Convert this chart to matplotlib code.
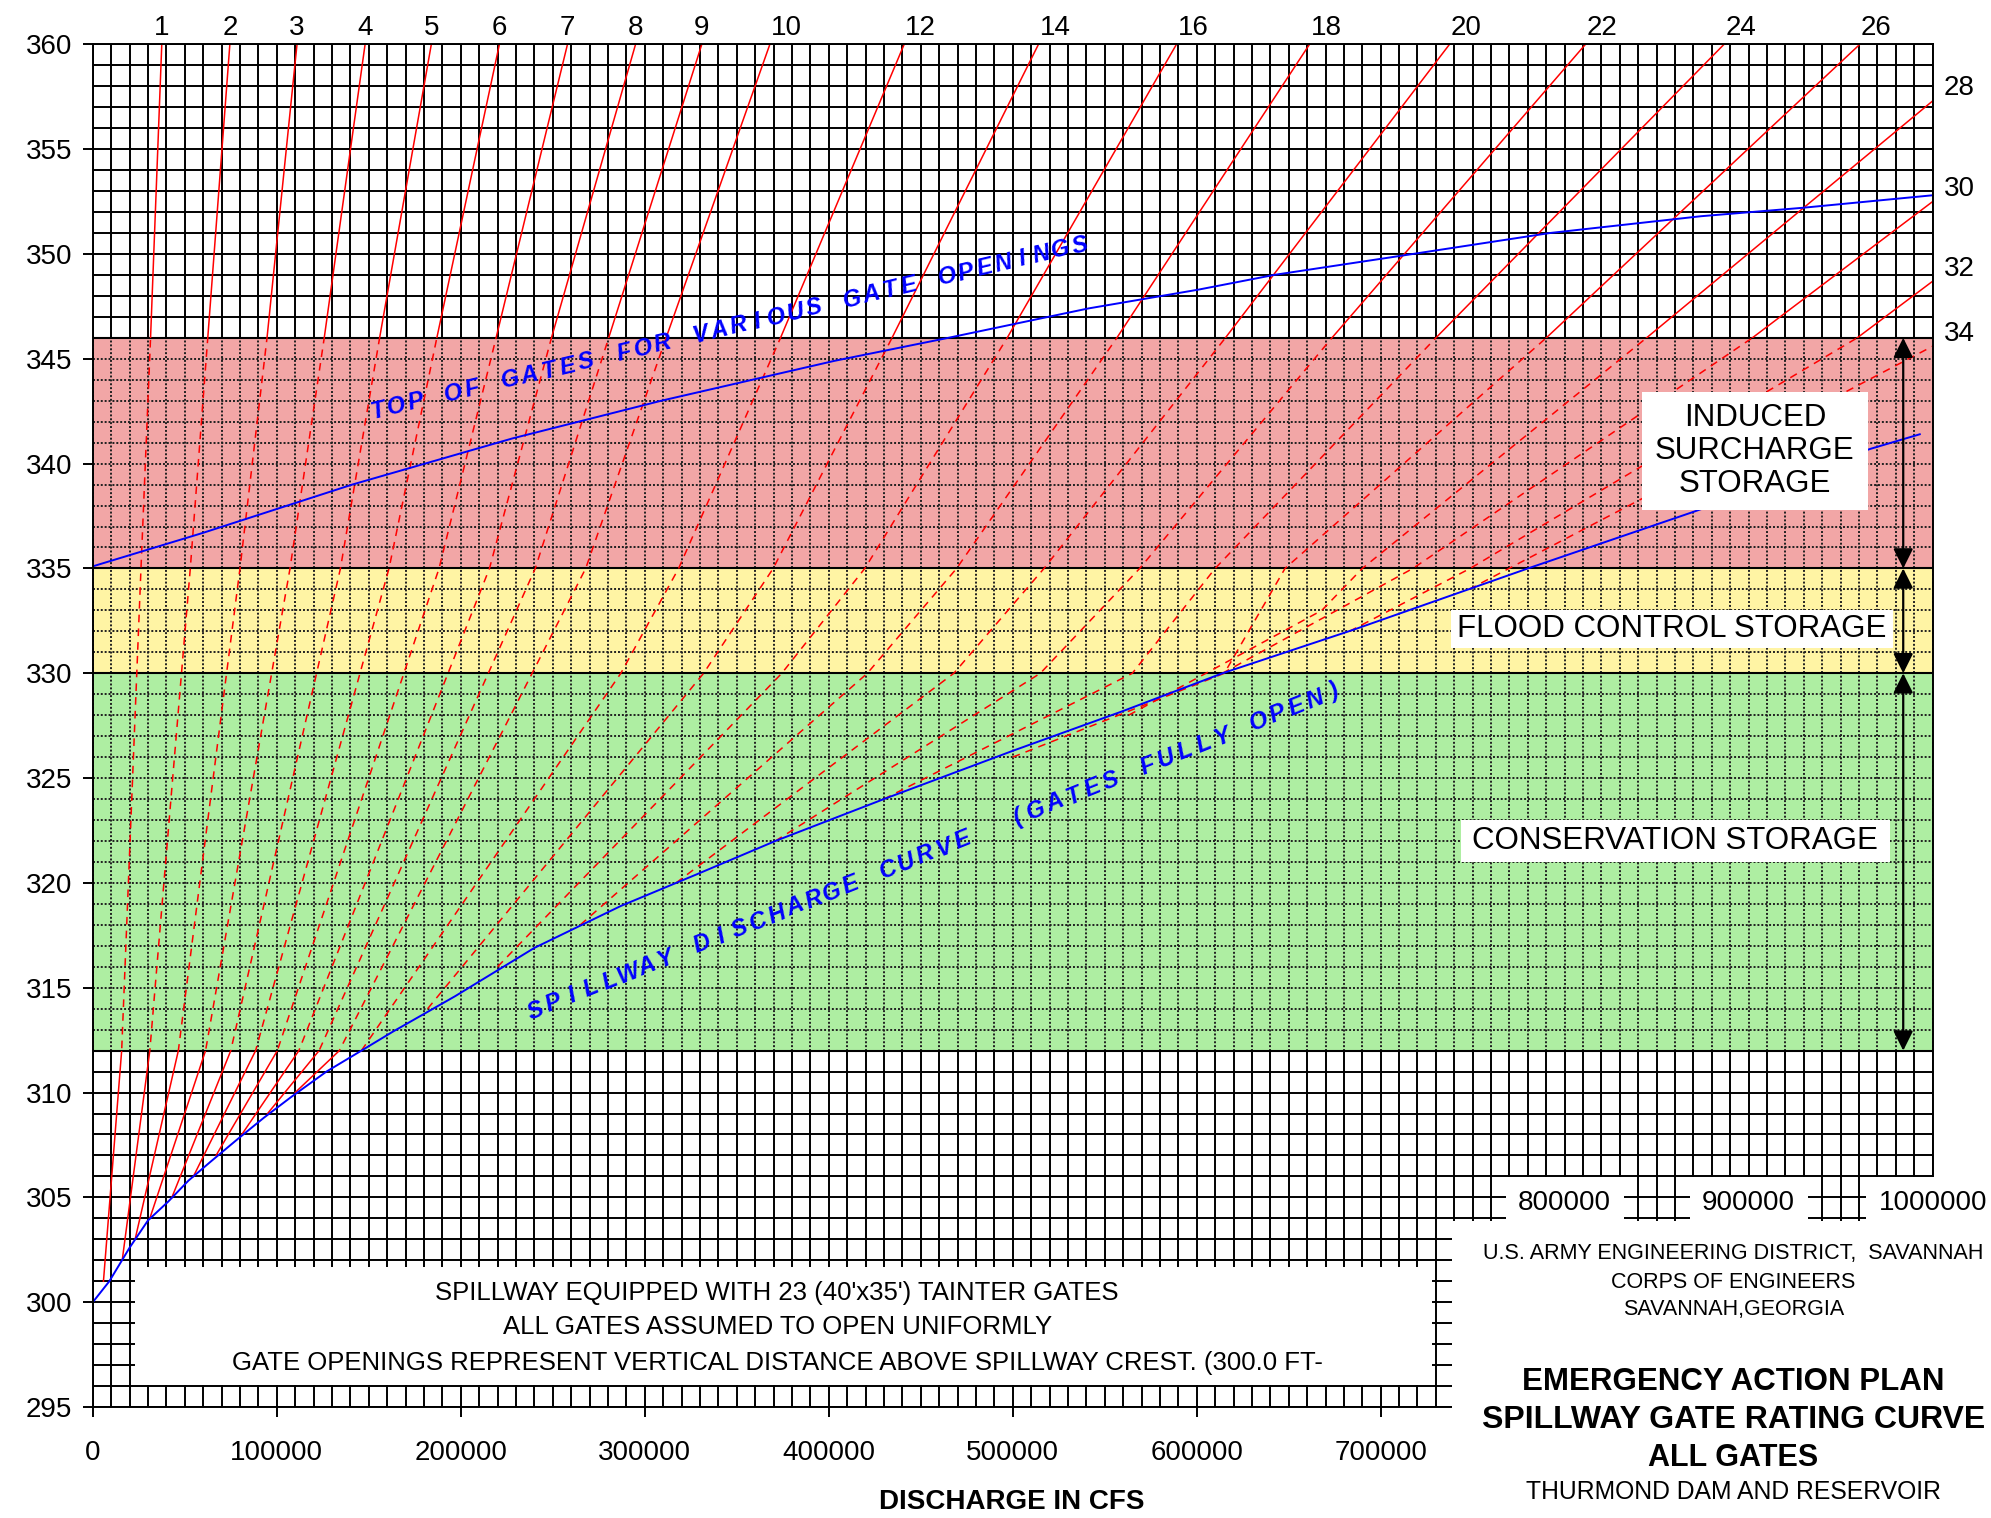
import matplotlib.pyplot as plt
from matplotlib.patches import Rectangle
import numpy as np

plt.rcParams['font.family'] = ['Liberation Sans', 'DejaVu Sans']

# spillway free-flow discharge (gates fully open): discharge in 1000 cfs, pool elevation in ft
spill_kcfs = [0, 9, 20, 30, 41, 52, 64, 79, 93, 108, 127, 146, 163, 181, 197, 240,
              287, 328, 371, 430, 500, 560, 614, 686, 780, 870, 966, 993]
spill_el = [300, 301, 302.6, 303.9, 304.8, 305.8, 306.7, 307.8, 308.8, 309.8, 311, 312,
            312.9, 313.8, 314.6, 316.9, 318.9, 320.4, 322, 324, 326.3, 328.2, 330, 332.1,
            335, 337.7, 340.7, 341.4]

# top of gates for the various gate openings
top_kcfs = [0, 60, 141, 228, 309, 403, 465, 541, 601, 642, 710, 792, 874, 929, 1000]
top_el = [335.1, 336.7, 339, 341.2, 343, 344.9, 346, 347.4, 348.3, 349, 349.9, 351,
          351.8, 352.2, 352.8]

# rating curve for each gate opening (ft)
gate_open = [1, 2, 3, 4, 5, 6, 7, 8, 9, 10, 12, 14, 16, 18, 20, 22, 24, 26, 28, 30, 32, 34]
gate_kcfs = [
    [5.8, 15.7, 26.2, 31.4, 37.5],
    [16, 31, 53, 62.5, 74.5],
    [23, 46.5, 80, 94.7, 111],
    [31, 61.3, 107.2, 125.8, 148],
    [43, 75, 134.6, 155.9, 184],
    [54.7, 88.5, 161, 187, 221],
    [67, 100.3, 188.2, 219.2, 258],
    [81, 112, 215.6, 249.3, 295],
    [95, 123, 240.5, 280.4, 331],
    [110, 134, 267.9, 311.6, 368],
    [146, 287, 318.4, 373.8, 441],
    [182, 332, 369.8, 434.4, 514],
    [220, 374.5, 419.6, 497, 589],
    [265, 421, 469.5, 556.6, 661.3],
    [317, 468, 517, 615.6, 737.4],
    [371, 515, 569, 673.5, 811.3],
    [430, 565, 610, 730, 886.6],
    [500, 615, 648, 790, 960.4],
    [563, 668, 690, 844.5, 1000],
    [614, 717.5, 902, 1000],
    [683, 748.6, 959, 1000],
    [748, 1000],
]
gate_el = [
    [301, 312, 335, 346, 360],
    [302, 312, 335, 346, 360],
    [303, 312, 335, 346, 360],
    [304, 312, 335, 346, 360],
    [305, 312, 335, 346, 360],
    [306, 312, 335, 346, 360],
    [307, 312, 335, 346, 360],
    [308, 312, 335, 346, 360],
    [309, 312, 335, 346, 360],
    [310, 312, 335, 346, 360],
    [312, 330, 335, 346, 360],
    [314, 330, 335, 346, 360],
    [316, 330, 335, 346, 360],
    [318, 330, 335, 346, 360],
    [320, 330, 335, 346, 360],
    [322, 330, 335, 346, 360],
    [324, 330, 335, 346, 360],
    [326, 330, 335, 346, 360],
    [328, 333, 335, 346, 357.3],
    [330, 335, 346, 352.5],
    [332, 335, 346, 348.7],
    [334, 345.6],
]

# storage zones (ft)
zone_lo = [312, 330, 335]
zone_hi = [330, 335, 346]
zone_color = ['#aeeea2', '#fff4a4', '#f2a6a6']
zone_name = ['CONSERVATION STORAGE', 'FLOOD CONTROL STORAGE', 'INDUCED\nSURCHARGE\nSTORAGE']

fig = plt.figure(figsize=(19.91, 15.18), dpi=100)
ax = fig.add_axes([0.0466, 0.0731, 0.9241, 0.8977])
ax.set_xlim(0, 1000000)
ax.set_ylim(295, 360)

# chart paper grid: every 10000 cfs and every foot
xs = np.arange(0, 1000001, 10000)
ys = np.arange(295, 361, 1)
ax.vlines(xs, 295, 360, color='black', lw=1.4, zorder=1)
ax.hlines(ys, 0, 1000000, color='black', lw=1.4, zorder=1)

dotted = (0, (1.0, 1.0))
for lo, hi, c in zip(zone_lo, zone_hi, zone_color):
    ax.axhspan(lo, hi, color=c, lw=0, zorder=2)
    ax.vlines(xs, lo, hi, color='#202020', lw=1.4, linestyles=dotted, zorder=3)
    inner = ys[(ys > lo) & (ys < hi)]
    ax.hlines(inner, 0, 1000000, color='#202020', lw=1.4, linestyles=dotted, zorder=3)
ax.hlines([312, 330, 335, 346], 0, 1000000, color='black', lw=1.5, zorder=3)

# gate curves: solid on the open grid, dashed across the storage zones
clip_above = Rectangle((0, 346), 1000000, 20, transform=ax.transData)
clip_below = Rectangle((0, 290), 1000000, 22, transform=ax.transData)
clip_zone = Rectangle((0, 312), 1000000, 34, transform=ax.transData)
for g, q, el in zip(gate_open, gate_kcfs, gate_el):
    q = np.array(q) * 1000
    for clip, ls in ((clip_above, '-'), (clip_below, '-'), (clip_zone, (0, (5, 4)))):
        ln, = ax.plot(q, el, color='red', lw=1.1, ls=ls, zorder=4)
        ln.set_clip_path(clip)
    if q[-1] < 1000000:
        dx = 9000 if g >= 10 else 0
        ax.text(q[-1] + dx, 360.45, str(g), ha='center', va='baseline', fontsize=20)
    else:
        ax.text(1006000, el[-1] + 0.6, str(g), ha='left', va='center', fontsize=20)

ax.plot(np.array(spill_kcfs) * 1000, spill_el, color='blue', lw=1.4, zorder=5)
ax.plot(np.array(top_kcfs) * 1000, top_el, color='blue', lw=1.4, zorder=5)


def spaced_label(text, start, end, size):
    # letters evenly spread between two points, tilted to follow the curve
    (x0, y0), (x1, y1) = start, end
    p0 = ax.transData.transform((x0, y0))
    p1 = ax.transData.transform((x1, y1))
    ang = np.degrees(np.arctan2(p1[1] - p0[1], p1[0] - p0[0]))
    n = len(text)
    for i, ch in enumerate(text):
        t = i / (n - 1)
        ax.text(x0 + t * (x1 - x0), y0 + t * (y1 - y0), ch, rotation=ang,
                rotation_mode='anchor', ha='center', va='center', color='blue',
                fontsize=size, fontweight='bold', fontstyle='italic', zorder=7)


spaced_label('TOP OF GATES FOR VARIOUS GATE OPENINGS', (154800, 342.5), (536400, 350.4), 17)
spaced_label('SPILLWAY DISCHARGE CURVE  (GATES FULLY OPEN)', (240500, 313.9), (674300, 329.1), 17)

# zone labels on white boxes
box_x0 = [743400, 738200, 841900]
box_x1 = [976900, 978600, 964800]
box_y0 = [321.0, 331.2, 337.8]
box_y1 = [323.0, 333.0, 343.4]
for name, a, b, c, d in zip(zone_name, box_x0, box_x1, box_y0, box_y1):
    ax.add_patch(Rectangle((a, c), b - a, d - c, facecolor='white', edgecolor='none', zorder=6))
    ax.text((a + b) / 2, (c + d) / 2, name, ha='center', va='center', fontsize=22.5,
            linespacing=1.15, zorder=7)

# zone extent arrows
for lo, hi in zip(zone_lo, zone_hi):
    ax.annotate('', xy=(984000, hi), xytext=(984000, lo),
                arrowprops=dict(arrowstyle='<|-|>', color='black', lw=1.6,
                                mutation_scale=30, shrinkA=0, shrinkB=0), zorder=8)

# notes box
ax.add_patch(Rectangle((23000, 296.05), 705000, 5.65, facecolor='white', edgecolor='none', zorder=6))
notes = ["SPILLWAY EQUIPPED WITH 23 (40'x35') TAINTER GATES",
         'ALL GATES ASSUMED TO OPEN UNIFORMLY',
         'GATE OPENINGS REPRESENT VERTICAL DISTANCE ABOVE SPILLWAY CREST. (300.0 FT-']
for s, y in zip(notes, [300.42, 298.8, 297.1]):
    ax.text(372000, y, s, ha='center', va='center', fontsize=18.5, zorder=7)

# title block covers the lower right corner of the grid
ax.add_patch(Rectangle((739000, 280), 400000, 23.85, facecolor='white', edgecolor='none',
                       zorder=6, clip_on=False))
for v in [800000, 900000, 1000000]:
    ax.text(v, 304.75, str(v), ha='center', va='center', fontsize=20, zorder=7,
            bbox=dict(facecolor='white', edgecolor='none', pad=9))

ax.set_xticks(np.arange(0, 700001, 100000))
ax.set_xticklabels([str(v) for v in range(0, 700001, 100000)])
ax.set_yticks(np.arange(295, 361, 5))
ax.tick_params(axis='both', direction='out', length=7, width=1.4, labelsize=20)
ax.tick_params(axis='x', pad=17)
ax.tick_params(axis='y', pad=8)
for sp in ax.spines.values():
    sp.set_linewidth(1.4)
    sp.set_zorder(5.5)

fig.text(0.5083, 0.0105, 'DISCHARGE IN CFS', ha='center', va='center', fontsize=20,
         fontweight='bold')

title_lines = ['U.S. ARMY ENGINEERING DISTRICT,  SAVANNAH', 'CORPS OF ENGINEERS',
               'SAVANNAH,GEORGIA', 'EMERGENCY ACTION PLAN', 'SPILLWAY GATE RATING CURVE',
               'ALL GATES', 'THURMOND DAM AND RESERVOIR']
title_y = [0.1745, 0.1551, 0.1376, 0.0899, 0.0648, 0.0397, 0.0171]
title_size = [15.5, 15.5, 15.5, 22.5, 23, 22, 17.8]
title_bold = [False, False, False, True, True, True, False]
for s, y, fs, b in zip(title_lines, title_y, title_size, title_bold):
    fig.text(0.8706, y, s, ha='center', va='center', fontsize=fs,
             fontweight='bold' if b else 'normal', zorder=9)

fig.savefig('out.png', dpi=100, facecolor='white')
